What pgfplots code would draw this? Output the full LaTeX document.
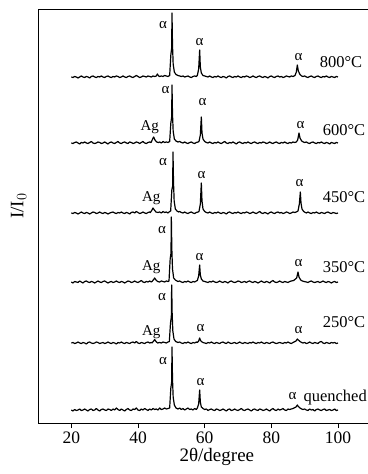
\documentclass[border=0pt]{standalone}
\usepackage{fontspec}
\setmainfont{Liberation Serif}
\usepackage{pgfplots}
\pgfplotsset{compat=1.18}
\begin{document}
\begin{tikzpicture}
\begin{axis}[
  scale only axis, width=330bp, height=413bp,
  xmin=10, xmax=109, ymin=51, ymax=464,
  axis lines*=left,
  axis line style={line width=1pt},
  xtick={20,40,60,80,100}, ytick=\empty,
  tick align=outside, major tick length=5bp,
  tick style={line width=0.9pt, black},
  /pgf/number format/assume math mode=true,
  tick label style={font=\fontsize{17.5bp}{20bp}\selectfont},
  xlabel={2θ/degree},
  xlabel style={font=\fontsize{19bp}{22bp}\selectfont, at={(axis description cs:0.542,0)}, anchor=north, yshift=-22bp},
  ylabel={I/I$_0$},
  ylabel style={font=\fontsize{19bp}{22bp}\selectfont, at={(axis description cs:0,0.525)}, anchor=south, yshift=8bp},
  clip=false,
  every axis plot post/.append style={black, solid, mark=none, line width=1.2pt, line join=round},
]
\coordinate (bl) at (rel axis cs:0,0);
\draw[line width=1pt] (rel axis cs:0,1) -- (rel axis cs:1,1);
% quenched
\addplot coordinates {(20,64)(20.5,63)(21,64.5)(21.5,63.5)(22,64)(22.5,65)(23,63.5)(23.5,64)(24,65)(24.5,64)(25,63)(25.5,64.5)(26,65)(26.5,63.5)(27,64)(27.5,65.5)(28,64)(28.5,63)(29,64.5)(29.5,65)(30,64)(30.5,63.5)(31,65)(31.5,64.5)(32,63.5)(32.5,65)(33,64)(33.5,66)(34,64.5)(34.5,63.5)(35,65)(35.5,64)(36,63)(36.5,64.5)(37,65.5)(37.5,64)(38,63.5)(38.5,65)(39,64.5)(39.5,66)(40,64)(40.5,63.5)(41,65)(41.5,64)(42,65.5)(42.5,64.5)(43,63.5)(43.5,65)(44,64)(44.5,65.5)(45,64.5)(45.5,65)(46,64)(46.5,66)(47,64.5)(47.5,65)(48,66)(48.5,65)(49,65.5)(49.5,66)(49.85,86)(50.1,92)(50.2,127)(50.35,95)(50.55,77)(50.9,69)(51.4,66)(52,65)(52.5,66)(53,64.5)(53.5,65.5)(54,64)(54.5,65)(55,66)(55.5,64.5)(56,65)(56.5,64)(57,65.5)(57.5,64.5)(57.8,66)(58.2,70)(58.5,84)(58.7,72)(59,67)(59.5,65.5)(60,64.5)(60.5,65)(61,63.5)(61.5,64.5)(62,65)(62.5,64)(63,63.5)(63.5,65)(64,64.5)(64.5,63.5)(65,64)(65.5,65)(66,64)(66.5,63)(67,64.5)(67.5,65)(68,63.5)(68.5,64)(69,65)(69.5,64)(70,63.5)(70.5,64.5)(71,65.5)(71.5,64)(72,63.5)(72.5,64.5)(73,65)(73.5,64)(74,63)(74.5,64.5)(75,65)(75.5,64)(76,63.5)(76.5,65)(77,64.5)(77.5,63.5)(78,64)(78.5,65)(79,64)(79.5,63)(80,64.5)(80.5,65.5)(81,64)(81.5,63.5)(82,65)(82.5,64)(83,64.5)(83.5,65.5)(84,64)(84.5,63.5)(85,65)(85.5,64.5)(86,65)(86.5,65.5)(87.4,67)(87.8,69)(88.1,67.5)(88.6,66)(89.1,65)(89.5,64.5)(90,65)(90.5,64)(91,63.5)(91.5,65)(92,64)(92.5,64.5)(93,63)(93.5,64.5)(94,65)(94.5,64)(95,63.5)(95.5,64.5)(96,65)(96.5,63.5)(97,64)(97.5,64.5)(98,63.5)(98.5,64)(99,65)(99.5,63.5)(100,64)};
% 250
\addplot coordinates {(20,131)(20.5,131.5)(21,130.5)(21.5,131)(22,132)(22.5,131)(23,130.5)(23.5,131.5)(24,131)(24.5,130)(25,131.5)(25.5,132)(26,131)(26.5,130.5)(27,131)(27.5,132)(28,131.5)(28.5,130.5)(29,131)(29.5,131.5)(30,130.5)(30.5,131)(31,132)(31.5,131)(32,130.5)(32.5,131.5)(33,131)(33.5,130)(34,131.5)(34.5,131)(35,132)(35.5,131)(36,130.5)(36.5,131.5)(37,131)(37.5,130.5)(38,131.5)(38.5,132)(39,131)(39.5,132.5)(40,131)(40.5,130.5)(41,131.5)(41.5,131)(42,130.5)(42.5,131.5)(43,132)(43.5,131)(44,131.5)(44.2,131)(44.7,133)(45,134.5)(45.4,132.5)(45.9,131)(46.5,131.5)(47,131)(47.5,132)(48,131.5)(48.5,131)(49,132)(49.4,132.5)(49.75,151)(50,157)(50.1,189)(50.25,160)(50.45,143)(50.8,135)(51.3,132.5)(52,131.5)(52.5,132)(53,131)(53.5,130.5)(54,131.5)(54.5,131)(55,132)(55.5,131)(56,130.5)(56.5,131.5)(57,131)(57.5,132)(57.8,131.5)(58.2,133)(58.5,136)(58.7,134)(59,132.5)(59.5,131.5)(60,131)(60.5,130.5)(61,131.5)(61.5,131)(62,132)(62.5,131)(63,130.5)(63.5,131.5)(64,131)(64.5,130.5)(65,131.5)(65.5,132)(66,131)(66.5,130.5)(67,132)(67.5,131)(68,130.5)(68.5,131)(69,131.5)(69.5,130.5)(70,131)(70.5,132)(71,131)(71.5,130.5)(72,131.5)(72.5,131)(73,130.5)(73.5,131.5)(74,131)(74.5,132)(75,131)(75.5,130.5)(76,131.5)(76.5,131)(77,132)(77.5,131)(78,130.5)(78.5,131.5)(79,131)(79.5,130.5)(80,131.5)(80.5,132)(81,131)(81.5,130.5)(82,131)(82.5,131.5)(83,131)(83.5,130.5)(84,131.5)(84.5,131)(85,132)(85.5,131)(86,130.5)(86.5,131.5)(87.4,133)(87.8,135)(88.1,134)(88.6,132.5)(89.1,131.5)(89.5,131)(90,131.5)(90.5,130.5)(91,131)(91.5,132)(92,131)(92.5,130.5)(93,131.5)(93.5,131)(94,130.5)(94.5,132)(95,132.5)(95.5,131)(96,130.5)(96.5,131.5)(97,131)(97.5,130.5)(98,131.5)(98.5,131)(99,131.5)(99.5,130.5)(100,131)};
% 350
\addplot coordinates {(20,192)(20.5,191)(21,192.5)(21.5,192)(22,191.5)(22.5,193)(23,192)(23.5,191)(24,192.5)(24.5,193)(25,192)(25.5,191.5)(26,192.5)(26.5,192)(27,191)(27.5,192)(28,193)(28.5,192)(29,191.5)(29.5,192.5)(30,193)(30.5,192)(31,191)(31.5,192)(32,192.5)(32.5,191.5)(33,192)(33.5,193)(34,192)(34.5,191.5)(35,192.5)(35.5,192)(36,191)(36.5,192)(37,193)(37.5,192.5)(38,191.5)(38.5,192)(39,193)(39.5,192)(40,191.5)(40.5,192.5)(41,193.5)(41.5,192)(42,191.5)(42.5,192.5)(43,192)(43.5,193)(44,192)(44.2,192.5)(44.7,194.5)(45,196)(45.4,194)(45.9,192.5)(46.5,192)(47,193)(47.5,192.5)(48,192)(48.5,193)(49,192.5)(49.3,193)(49.65,215)(49.9,221)(50,257)(50.15,225)(50.35,205)(50.7,196)(51.2,194)(51.7,193)(52,192.5)(52.5,193)(53,192)(53.5,191.5)(54,192.5)(54.5,192)(55,193)(55.5,192)(56,191.5)(56.5,192.5)(57,192)(57.5,193)(57.8,193.5)(58.2,198)(58.5,209)(58.7,199)(59,195)(59.5,193)(60,192.5)(60.5,192)(61,191.5)(61.5,192.5)(62,192)(62.5,193)(63,192)(63.5,191.5)(64,192)(64.5,193)(65,192)(65.5,191.5)(66,192.5)(66.5,192)(67,191)(67.5,192.5)(68,193)(68.5,192)(69,191.5)(69.5,192)(70,193)(70.5,192.5)(71,191.5)(71.5,192)(72,192.5)(72.5,191.5)(73,192.5)(73.5,193)(74,192)(74.5,191.5)(75,192.5)(75.5,192)(76,191)(76.5,192)(77,193)(77.5,192)(78,191.5)(78.5,192.5)(79,192)(79.5,191)(80,192.5)(80.5,193.5)(81,192)(81.5,191.5)(82,192)(82.5,193)(83,192)(83.5,191.5)(84,192.5)(84.5,192)(85,191.5)(85.5,192.5)(86,193)(86.7,193.5)(87.6,196)(88,202)(88.3,197)(88.8,194)(89.3,193)(89.8,192.5)(90.5,192)(91,191.5)(91.5,192.5)(92,193)(92.5,192)(93,191.5)(93.5,192)(94,192.5)(94.5,191.5)(95,192)(95.5,193)(96,192)(96.5,191.5)(97,192.5)(97.5,192)(98,191)(98.5,192)(99,192.5)(99.5,191.5)(100,192)};
% 450
\addplot coordinates {(20,261)(20.5,260.5)(21,261.5)(21.5,261)(22,260)(22.5,261)(23,262)(23.5,261)(24,260.5)(24.5,261.5)(25,261)(25.5,260)(26,261)(26.5,262)(27,261.5)(27.5,260.5)(28,261)(28.5,262)(29,261)(29.5,260.5)(30,261.5)(30.5,261)(31,260)(31.5,261)(32,261.5)(32.5,262)(33,261)(33.5,260.5)(34,261.5)(34.5,261)(35,262)(35.5,261)(36,260.5)(36.5,261.5)(37,261)(37.5,260)(38,261.5)(38.5,262)(39,261)(39.5,262.5)(40,261.5)(40.5,260.5)(41,261)(41.5,262)(42,261)(42.5,260.5)(43,261.5)(43.5,262)(43.7,261.5)(44.2,264)(44.5,266)(44.9,264)(45.4,262)(46,261.5)(46.5,262)(47,261)(47.5,262.5)(48,261.5)(48.5,262)(49,261)(49.5,262.5)(49.8,263)(50.15,284)(50.4,288)(50.5,322)(50.65,292)(50.85,273)(51.2,265)(51.7,263)(52.2,262)(52.5,262.5)(53,261.5)(53.5,261)(54,262)(54.5,261)(55,260.5)(55.5,261.5)(56,262)(56.5,261)(57,260.5)(57.5,261.5)(58,262)(58.3,262.5)(58.7,270)(59,291)(59.2,273)(59.5,265)(60,262.5)(60.5,261.5)(61,261)(61.5,262)(62,261)(62.5,260.5)(63,261.5)(63.5,261)(64,262)(64.5,261)(65,260.5)(65.5,261.5)(66,261)(66.5,260)(67,261.5)(67.5,262)(68,261)(68.5,260.5)(69,261.5)(69.5,261)(70,262)(70.5,261)(71,260.5)(71.5,261.5)(72,261)(72.5,262)(73,261.5)(73.5,260.5)(74,261)(74.5,262)(75,261)(75.5,260.5)(76,261.5)(76.5,262.5)(77,261)(77.5,260.5)(78,261.5)(78.5,261)(79,260)(79.5,261.5)(80,262)(80.5,261)(81,260.5)(81.5,261.5)(82,262)(82.5,261)(83,261.5)(83.5,260.5)(84,261)(84.5,262)(85,261.5)(85.5,260.5)(86,261)(86.5,262)(87,261.5)(87.5,262)(88,263)(88.4,270)(88.7,282)(88.9,271)(89.2,265)(89.7,262.5)(90.2,261.5)(90.5,261)(91,262)(91.5,261)(92,260.5)(92.5,261.5)(93,261)(93.5,262)(94,261)(94.5,260.5)(95,261.5)(95.5,261)(96,260.5)(96.5,261.5)(97,262)(97.5,261)(98,260.5)(98.5,261.5)(99,261)(99.5,260.5)(100,261)};
% 600
\addplot coordinates {(20,331)(20.5,330.5)(21,331.5)(21.5,332)(22,331)(22.5,330)(23,331.5)(23.5,331)(24,332)(24.5,331)(25,330.5)(25.5,331.5)(26,332.5)(26.5,331)(27,330.5)(27.5,331)(28,332)(28.5,331.5)(29,330.5)(29.5,331)(30,332)(30.5,331)(31,330)(31.5,331.5)(32,332)(32.5,331)(33,330.5)(33.5,331.5)(34,332.5)(34.5,331)(35,330.5)(35.5,331.5)(36,332)(36.5,331)(37,330.5)(37.5,332)(38,331.5)(38.5,330.5)(39,331)(39.5,332)(40,331.5)(40.5,330.5)(41,331.5)(41.5,332.5)(42,331)(42.5,330.5)(43,331.5)(43.5,332)(43.9,331.5)(44.4,335)(44.7,337)(45.1,334)(45.6,332)(46.2,331.5)(46.5,332)(47,331)(47.5,332.5)(48,331.5)(48.5,332)(49,331.5)(49.5,332.5)(49.85,351)(50.1,357)(50.2,389)(50.35,360)(50.55,343)(50.9,335)(51.4,333)(52,332)(52.5,332.5)(53,331.5)(53.5,331)(54,332)(54.5,331)(55,330.5)(55.5,331.5)(56,332)(56.5,331)(57,330.5)(57.5,331.5)(58,332)(58.3,332.5)(58.7,339)(59,357)(59.2,341)(59.5,335)(60,332.5)(60.5,331.5)(61,331)(61.5,332)(62,331)(62.5,330.5)(63,331.5)(63.5,331)(64,332)(64.5,331)(65,330.5)(65.5,331.5)(66,332.5)(66.5,331)(67,330.5)(67.5,331.5)(68,331)(68.5,332)(69,331)(69.5,330)(70,331.5)(70.5,332)(71,331)(71.5,330.5)(72,331.5)(72.5,331)(73,332)(73.5,331)(74,330.5)(74.5,331.5)(75,332)(75.5,331)(76,330.5)(76.5,331.5)(77,331)(77.5,332)(78,331.5)(78.5,330.5)(79,331)(79.5,332)(80,331)(80.5,330.5)(81,331.5)(81.5,332)(82,331)(82.5,330.5)(83,331.5)(83.5,331)(84,332)(84.5,331)(85,330.5)(85.5,331.5)(86,331)(86.5,332)(87,331.5)(87.5,332)(87.9,334)(88.3,341)(88.6,336)(89.1,333)(89.6,332)(90,331.5)(90.5,332)(91,331)(91.5,330.5)(92,331.5)(92.5,332)(93,331)(93.5,330.5)(94,331.5)(94.5,331)(95,332)(95.5,331)(96,330.5)(96.5,331.5)(97,331)(97.5,330)(98,331.5)(98.5,331)(99,330.5)(99.5,331.5)(100,331)};
% 800
\addplot coordinates {(20,397)(20.5,396.5)(21,397.5)(21.5,397)(22,396)(22.5,397)(23,398)(23.5,397)(24,396.5)(24.5,397.5)(25,397)(25.5,396)(26,397.5)(26.5,398)(27,397)(27.5,396.5)(28,397.5)(28.5,397)(29,398)(29.5,397)(30,396.5)(30.5,397.5)(31,398)(31.5,397)(32,396.5)(32.5,397.5)(33,397)(33.5,398)(34,397.5)(34.5,396.5)(35,397)(35.5,398)(36,397)(36.5,396.5)(37,397.5)(37.5,398)(38,397)(38.5,396.5)(39,397.5)(39.5,398.5)(40,397.5)(40.5,396.5)(41,397)(41.5,398)(42,397.5)(42.5,397)(43,398)(43.5,397.5)(44,397)(44.5,398)(45,397.5)(45.5,398)(45.8,400)(46.2,398)(46.5,397.5)(47,398)(47.5,397.5)(48,398.5)(48.5,398)(49,397.5)(49.5,398.5)(49.85,419)(50.1,426)(50.2,461)(50.35,429)(50.55,410)(50.9,402)(51.4,399.5)(52,398.5)(52.5,398)(53,397.5)(53.5,398)(54,397)(54.5,397.5)(55,398)(55.5,397)(56,396.5)(56.5,397.5)(57,398)(57.5,397.5)(57.8,398.5)(58.2,405)(58.5,424)(58.7,407)(59,401)(59.5,398.5)(60,398)(60.5,397.5)(61,397)(61.5,398)(62,397)(62.5,396.5)(63,397.5)(63.5,397)(64,398)(64.5,397)(65,396.5)(65.5,397.5)(66,397)(66.5,396)(67,397.5)(67.5,398)(68,397)(68.5,396.5)(69,397.5)(69.5,397)(70,398)(70.5,397)(71,396.5)(71.5,397.5)(72,397)(72.5,398)(73,397.5)(73.5,396.5)(74,397)(74.5,398)(75,397)(75.5,396.5)(76,397.5)(76.5,398)(77,397)(77.5,396.5)(78,397.5)(78.5,397)(79,396)(79.5,397.5)(80,398)(80.5,397)(81,396.5)(81.5,397.5)(82,398)(82.5,397)(83,397.5)(83.5,396.5)(84,397)(84.5,398)(85,397.5)(85.5,397)(86,398)(86.5,397.5)(87.1,398.5)(87.5,402)(87.8,409)(88.1,403)(88.6,399.5)(89.1,398)(89.5,397.5)(90,398)(90.5,397)(91,396.5)(91.5,397.5)(92,398)(92.5,397)(93,396.5)(93.5,397.5)(94,398)(94.5,397)(95,396.5)(95.5,397.5)(96,397)(96.5,398)(97,397)(97.5,396.5)(98,397.5)(98.5,397)(99,396.5)(99.5,397.5)(100,397)};
% labels
\begin{scope}[every node/.style={font=\fontsize{15bp}{18bp}\selectfont, inner sep=0pt}]
\node at (axis cs:47.5,449) {α};
\node at (axis cs:58.5,432) {α};
\node at (axis cs:88.2,417) {α};
\node at (axis cs:48.3,384) {α};
\node at (axis cs:59.4,372) {α};
\node at (axis cs:43.5,347) {Ag};
\node at (axis cs:88.8,349) {α};
\node at (axis cs:47.5,312) {α};
\node at (axis cs:59.1,299) {α};
\node at (axis cs:44.0,276) {Ag};
\node at (axis cs:88.5,291) {α};
\node at (axis cs:47.2,244) {α};
\node at (axis cs:58.5,217) {α};
\node at (axis cs:44.0,207) {Ag};
\node at (axis cs:88.2,211) {α};
\node at (axis cs:47.2,177) {α};
\node at (axis cs:58.8,146) {α};
\node at (axis cs:44.0,142) {Ag};
\node at (axis cs:88.2,144) {α};
\node at (axis cs:47.5,113) {α};
\node at (axis cs:58.8,92) {α};
\node at (axis cs:86.4,78) {α};
\end{scope}
\begin{scope}[every node/.style={font=\fontsize{16.5bp}{19bp}\selectfont, inner sep=0pt, anchor=west}]
\node at (axis cs:94.5,412) {800°C};
\node at (axis cs:95.4,344) {600°C};
\node at (axis cs:95.4,277) {450°C};
\node at (axis cs:95.4,207) {350°C};
\node at (axis cs:95.4,152) {250°C};
\node at (axis cs:89.6,76) {quenched};
\end{scope}
\end{axis}
\pgfresetboundingbox
\path (bl) ++(-38bp,-51bp) rectangle ++(368bp,474bp);
\end{tikzpicture}
\end{document}
